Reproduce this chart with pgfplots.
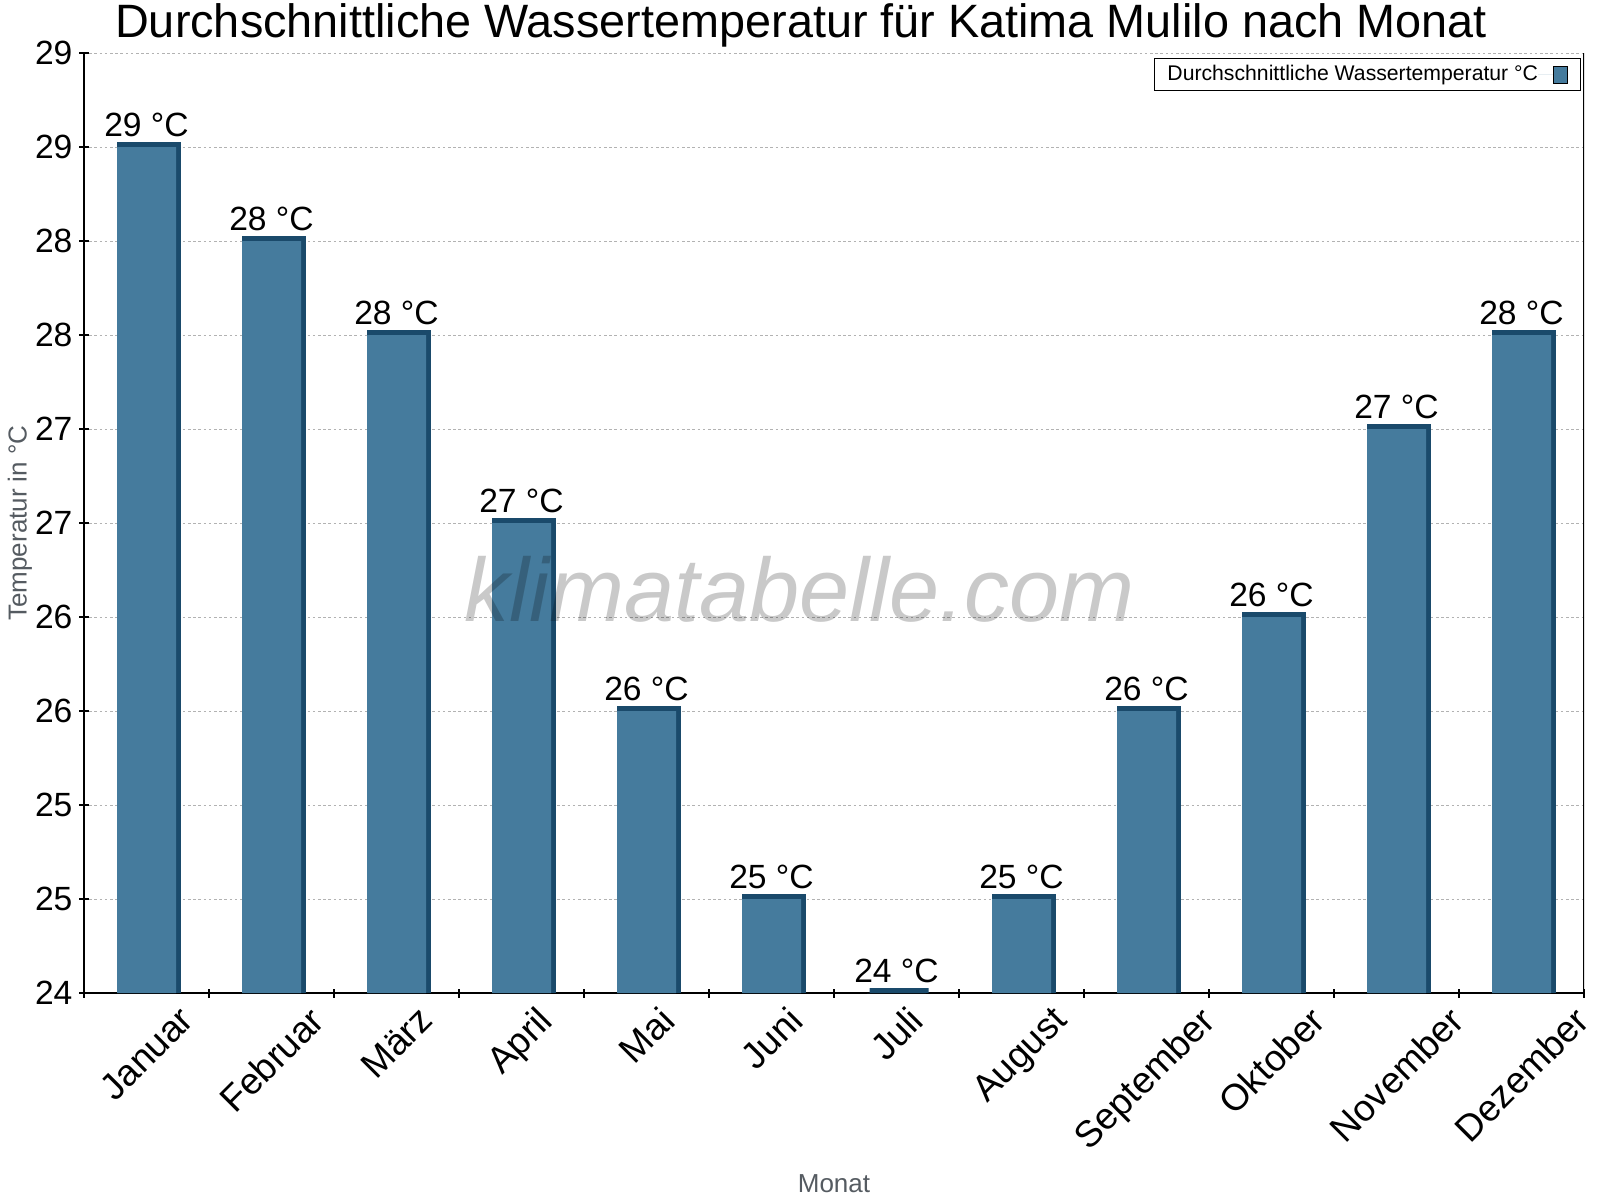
\documentclass[border=0pt]{standalone}
\usepackage{fontspec}
\setmainfont{Liberation Sans}
\usepackage{graphicx}
\usepackage{pgfplots}
\usepackage{pgfplotstable}
\pgfplotsset{compat=1.18}
\definecolor{barfront}{HTML}{457B9D}
\definecolor{barside}{HTML}{1A4A6B}
\definecolor{labgray}{HTML}{555B61}
\pgfplotstableread{
x y lab
0 28.5 29
1 28.0 28
2 27.5 28
3 26.5 27
4 25.5 26
5 24.5 25
6 24.0 24
7 24.5 25
8 25.5 26
9 26.0 26
10 27.0 27
11 27.5 28
}\datatable
\begin{document}
\begin{tikzpicture}
\begin{axis}[
  at={(0pt,0pt)}, anchor=south west,
  scale only axis, width=750pt, height=470pt,
  xmin=-0.5, xmax=11.5, ymin=24, ymax=29,
  axis x line*=bottom, axis y line*=left,
  axis line style={line width=0.6pt, black},
  ytick={24,24.5,25,25.5,26,26.5,27,27.5,28,28.5,29},
  yticklabels={24,25,25,26,26,27,27,28,28,29,29},
  xtick={-0.5,0.5,1.5,2.5,3.5,4.5,5.5,6.5,7.5,8.5,9.5,10.5,11.5},
  xticklabels={},
  extra x ticks={0,1,2,3,4,5,6,7,8,9,10,11},
  extra x tick labels={\rotatebox{45}{Januar},\rotatebox{45}{Februar},\rotatebox{45}{März},\rotatebox{45}{April},\rotatebox{45}{Mai},\rotatebox{45}{Juni},\rotatebox{45}{Juli},\rotatebox{45}{August},\rotatebox{45}{September},\rotatebox{45}{Oktober},\rotatebox{45}{November},\rotatebox{45}{Dezember}},
  extra x tick style={major tick length=0pt, xticklabel style={anchor=north, inner sep=0pt, yshift=-5.5pt, font=\fontsize{18.5pt}{21pt}\selectfont}},
  tick align=center, major tick length=4.5pt,
  tick style={black, line width=0.6pt},
  ymajorgrids,
  grid style={draw=black!30, dash pattern=on 1.3pt off 1.3pt, line width=0.5pt},
  tick label style={font=\fontsize{16.8pt}{19pt}\selectfont},
  /pgf/number format/assume math mode=true,
  title={Durchschnittliche Wassertemperatur für Katima Mulilo nach Monat},
  title style={at={(axis description cs:0.478,1)}, anchor=base, yshift=2pt, inner sep=0pt, font=\fontsize{23.4pt}{27pt}\selectfont},
  ylabel={Temperatur in °C},
  every axis y label/.style={at={(axis description cs:-0.0427,0.5)}, rotate=90, anchor=center, font=\fontsize{13pt}{15pt}\selectfont, text=labgray},
  xlabel={Monat},
  every axis x label/.style={at={(axis description cs:0.5,0)}, anchor=base, yshift=-99.5pt, font=\fontsize{13pt}{15pt}\selectfont, text=labgray},
  legend style={at={(axis description cs:0.998,0.9947)}, anchor=north east, draw=black, line width=0.5pt, font=\fontsize{10.6pt}{12pt}\selectfont, inner xsep=6.5pt, inner ysep=3.5pt, nodes={inner sep=0pt}},
  legend plot pos=right,
]
\addplot[ybar, bar width=29.5pt, bar shift=0pt, fill=barside, draw=barside, line width=2.5pt, forget plot, xshift=1.25pt, yshift=1.25pt] table[x=x,y=y]{\datatable};
\addplot[ybar, bar width=29.5pt, bar shift=0pt, fill=barfront, draw=none,
  legend image code/.code={\path (0pt,0pt) -- (14.5pt,0pt);\draw[fill=barfront, draw=black, line width=0.5pt] (7.5pt,-4.25pt) rectangle (14.5pt,4.25pt);},
  point meta=explicit symbolic,
  nodes near coords={\pgfplotspointmeta{} °C},
  every node near coord/.style={anchor=south, inner sep=0pt, yshift=5pt, font=\fontsize{16.8pt}{19pt}\selectfont, text=black}
] table[x=x,y=y,meta=lab]{\datatable};
\addlegendentry{Durchschnittliche Wassertemperatur °C}
\node[font=\fontsize{45pt}{50pt}\selectfont\itshape, text=black, opacity=0.21, anchor=base] at (rel axis cs:0.477,0.395) {klimatabelle.com};
\draw[line width=0.6pt] (rel axis cs:1,0) -- (rel axis cs:1,1);
\end{axis}
\pgfresetboundingbox
\path (-42pt,-103.5pt) rectangle (758pt,496.5pt);
\end{tikzpicture}
\end{document}
